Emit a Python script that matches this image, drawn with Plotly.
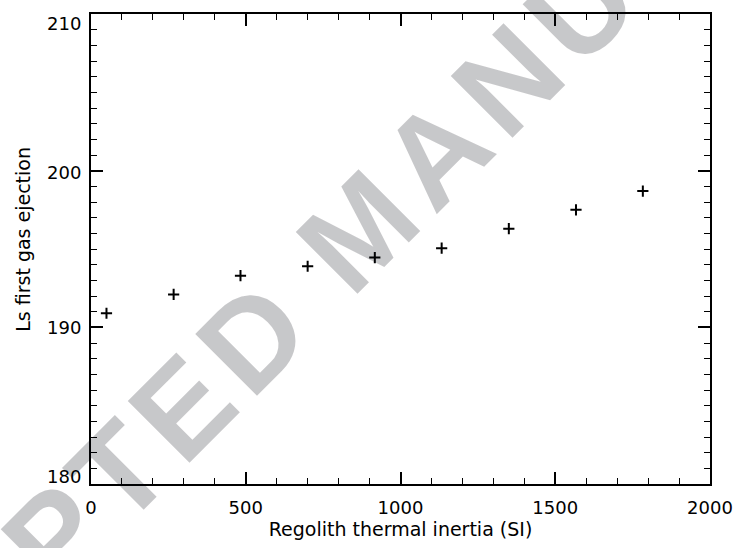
import math
import plotly.graph_objects as go

# ---- data ----
thermal_inertia = [50, 267, 483, 700, 917, 1133, 1350, 1567, 1783]
ls_first_ejection = [190.9, 192.1, 193.3, 193.9, 194.45, 195.05, 196.3, 197.5, 198.7]
x_ticks = [0, 500, 1000, 1500, 2000]
y_ticks = [180, 190, 200, 210]
y_tick_yshift = [8, 0, -2, -9]   # IDL pulls the end labels inward
watermark = "ACCEPTED MANUSCRIPT"

W, H = 745, 548
L, R, T, B = 91, 28, 12, 64
pw, ph = W - L - R, H - T - B
FONT = "DejaVu Sans"

fig = go.Figure()
fig.add_trace(go.Scatter(
    x=thermal_inertia, y=ls_first_ejection, mode="markers",
    marker=dict(symbol="cross-thin", size=8, color="black",
                line=dict(color="black", width=2)),
    showlegend=False, cliponaxis=False))

axis_common = dict(
    showline=True, linecolor="black", linewidth=2, mirror="allticks",
    ticks="inside", ticklen=12, tickwidth=1.6, tickcolor="black",
    showgrid=False, zeroline=False,
    tickfont=dict(family=FONT, size=18, color="black"),
)
fig.update_xaxes(range=[0, 2000], tickvals=x_ticks, ticklabelstandoff=6, **axis_common,
                 minor=dict(dtick=100, ticklen=6, tickwidth=1.4, ticks="inside", tickcolor="black"),
                 title=dict(text="Regolith thermal inertia (SI)", standoff=4,
                            font=dict(family=FONT, size=19, color="black")))
fig.update_yaxes(range=[180, 210], tickvals=y_ticks, showticklabels=False, **axis_common,
                 minor=dict(dtick=1, ticklen=6, tickwidth=1.4, ticks="inside", tickcolor="black"))

ann = []
# y tick labels
for v, sh in zip(y_ticks, y_tick_yshift):
    ann.append(dict(text=str(v), xref="paper", yref="y", x=0, y=v,
                    xanchor="right", yanchor="middle", xshift=-8, yshift=sh,
                    showarrow=False, font=dict(family=FONT, size=18, color="black")))
# y title
ann.append(dict(text="Ls first gas ejection", xref="paper", yref="paper",
                x=(22 - L) / pw, y=(H - B - 238) / ph, xanchor="center", yanchor="middle",
                textangle=-90, showarrow=False,
                font=dict(family=FONT, size=19, color="black")))

# ---- watermark: letters placed along a -45 degree baseline ----
adv = {"A": .722, "C": .722, "E": .667, "P": .667, "T": .611, "D": .722, " ": .278,
       "M": .833, "N": .722, "U": .722, "S": .667, "R": .722, "I": .278}
pitch = 143.0
start_s = -793.3
t_c = 418.0
cum = 0.0
for ch in watermark:
    a = adv[ch]
    if ch != " ":
        s_c = start_s + (cum + a / 2) * pitch
        xp = (s_c + t_c) / math.sqrt(2)
        yp = (t_c - s_c) / math.sqrt(2)
        ann.append(dict(text=ch, xref="paper", yref="paper",
                        x=(xp - L) / pw, y=(H - B - yp) / ph,
                        xanchor="center", yanchor="middle", showarrow=False,
                        textangle=-45,
                        font=dict(family="Liberation Sans", size=127, weight="bold",
                                  color="rgba(0,5,14,0.22)")))
    cum += a

fig.update_layout(
    width=W, height=H, margin=dict(l=L, r=R, t=T, b=B),
    paper_bgcolor="white", plot_bgcolor="white",
    annotations=ann,
)
fig.write_html("out.html")
